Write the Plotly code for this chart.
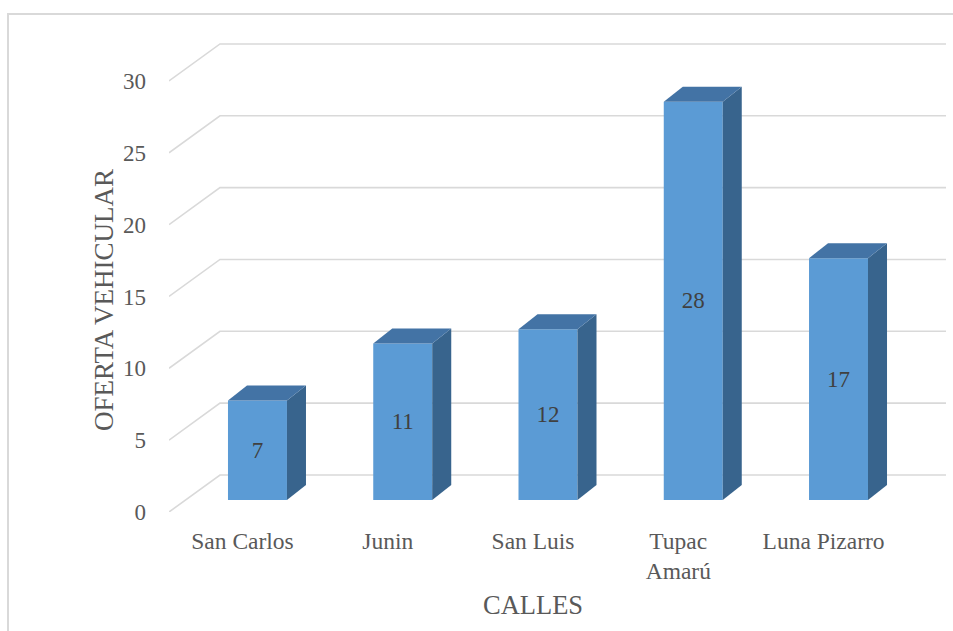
import plotly.graph_objects as go

# Street names and vehicle supply per street
calles = ["San Carlos", "Junin", "San Luis", "Tupac<br>Amarú", "Luna Pizarro"]
oferta = [7, 11, 12, 28, 17]
y_ticks = [0, 5, 10, 15, 20, 25, 30]

W, H = 953, 631
L, R, T, B = 169, 7, 43, 119
PW, PH = W - L - R, H - T - B
x_range = [-0.506, 4.843]
y_range = [0, 32.64]

# pseudo-3D projection offsets (data units)
wall_dx, wall_dy = 0.351, 2.575      # back wall relative to front plane
bar_dx, bar_base = 0.103, 0.835      # bar front face placement
bar_w = 0.406
depth_dx, depth_dy = 0.131, 1.044    # bar depth
persp = 0.99

FONT = "Liberation Serif"
FRONT, TOP, SIDE = "#5B9BD5", "#4373A5", "#38648D"
GRID = "#D9D9D9"
TXT = "#595959"

fig = go.Figure()

# side and top faces of every bar
for i, v in enumerate(oferta):
    xc = i + bar_dx
    xl, xr = xc - bar_w / 2, xc + bar_w / 2
    b = bar_base
    t = bar_base + v * persp
    fig.add_trace(go.Scatter(
        x=[xr, xr + depth_dx, xr + depth_dx, xr, xr],
        y=[b, b + depth_dy, t + depth_dy, t, b],
        fill="toself", fillcolor=SIDE, mode="lines", line=dict(width=0, color=SIDE),
        hoverinfo="skip", showlegend=False))
    fig.add_trace(go.Scatter(
        x=[xl, xl + depth_dx, xr + depth_dx, xr, xl],
        y=[t, t + depth_dy, t + depth_dy, t, t],
        fill="toself", fillcolor=TOP, mode="lines", line=dict(width=0, color=TOP),
        hoverinfo="skip", showlegend=False))

# front faces with value labels
fig.add_trace(go.Bar(
    x=[i + bar_dx for i in range(len(oferta))],
    y=[v * persp for v in oferta],
    base=bar_base, width=bar_w,
    marker=dict(color=FRONT, line=dict(width=0)),
    text=[str(v) for v in oferta], textposition="inside", insidetextanchor="middle",
    textangle=0, constraintext="none",
    insidetextfont=dict(family=FONT, size=23, color="#404040"),
    hoverinfo="skip", showlegend=False))


def px_x(p):
    return (p - L) / PW


def px_y(p):
    return (H - B - p) / PH


# gridlines: diagonal on the side wall, then horizontal across the back wall
shapes = []
for v in y_ticks:
    shapes.append(dict(
        type="path", xref="x", yref="y", layer="below",
        path=f"M {x_range[0]},{v} L {x_range[0] + wall_dx},{v + wall_dy} L {x_range[1]},{v + wall_dy}",
        line=dict(color=GRID, width=1.6)))

# outer chart frame
shapes.append(dict(type="rect", xref="paper", yref="paper",
                   x0=px_x(8), x1=px_x(970), y0=px_y(14), y1=px_y(650),
                   line=dict(color=GRID, width=2), fillcolor="rgba(0,0,0,0)", layer="below"))

fig.update_layout(
    template="none",
    width=W, height=H,
    margin=dict(l=L, r=R, t=T, b=B),
    paper_bgcolor="white", plot_bgcolor="white",
    font=dict(family=FONT, color=TXT),
    xaxis=dict(range=x_range, tickvals=list(range(len(calles))), ticktext=calles,
               showgrid=False, zeroline=False, showline=False, ticks="",
               tickfont=dict(family=FONT, size=23.5, color=TXT), ticklabelstandoff=12,
               fixedrange=True),
    yaxis=dict(range=y_range, tickvals=y_ticks, showgrid=False, zeroline=False,
               showline=False, ticks="", tickfont=dict(family=FONT, size=23, color=TXT),
               ticklabelstandoff=22, fixedrange=True),
    shapes=shapes,
    annotations=[
        dict(text="CALLES", xref="paper", yref="paper", x=px_x(532.5), y=px_y(605),
             xanchor="center", yanchor="middle", showarrow=False,
             font=dict(size=26.5, color=TXT, family=FONT)),
        dict(text="OFERTA VEHICULAR", xref="paper", yref="paper", x=px_x(104), y=px_y(300),
             xanchor="center", yanchor="middle", textangle=-90, showarrow=False,
             font=dict(size=27, color=TXT, family=FONT)),
    ],
)

fig.write_html("out.html")
